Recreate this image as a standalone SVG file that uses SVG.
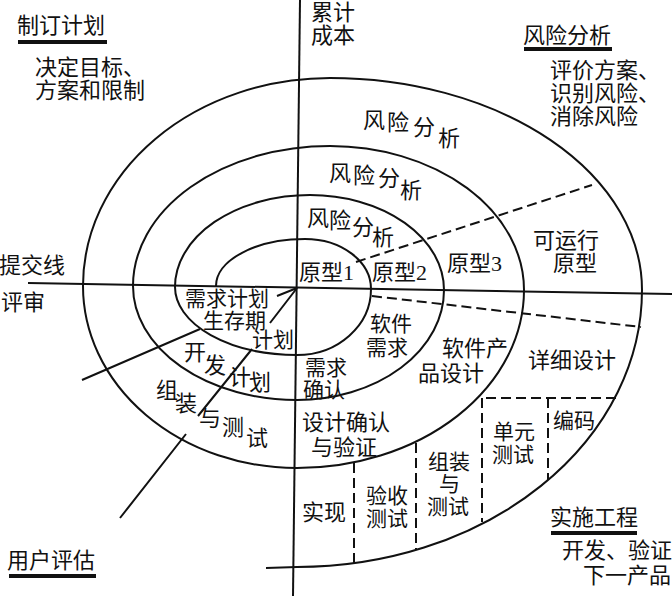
<svg xmlns="http://www.w3.org/2000/svg" width="672" height="596" viewBox="0 0 672 596">
<style>
text{font-family:"Liberation Serif","Noto Sans CJK SC",serif;font-size:22px;fill:#111}
.s{font-size:21px}
.c{fill:none;stroke:#111;stroke-width:2}
.d{fill:none;stroke:#111;stroke-width:2;stroke-dasharray:10 5}
.u{fill:#111}
</style>
<rect width="672" height="596" fill="#fff"/>
<g id="connectors">
<line class="c" x1="300" y1="0" x2="293" y2="596"/>
<line class="c" x1="28" y1="283" x2="672" y2="294"/>
<path id="spiral" class="c" d="M216,286 A89,47 0 0 1 305,239 A66,50 0 0 1 371,289 A74,66 0 0 1 297,355 A122,68 0 0 1 175,287 A135,92 0 0 1 310,195 A134,95 0 0 1 444,290 A147,110 0 0 1 297,400 A164,114 0 0 1 133,286 A197,140 0 0 1 330,146 A194,144 0 0 1 524,290 A227,178 0 0 1 297,468 A214,182 0 0 1 83,286 A247,208 0 0 1 330,78 A312,212 0 0 1 642,290 A345,277 0 0 1 297,567 L266,568"/>
<path class="c" d="M297,288 L277,296 M200,329 L82,380"/>
<path class="c" d="M297,288 L270,323 M252,349 L198,416 M186,434 L120,518"/>
<line class="d" x1="356" y1="262" x2="592" y2="185"/>
<line class="d" x1="372" y1="296" x2="641" y2="327"/>
<line class="d" x1="486" y1="398" x2="619" y2="398"/>
<line class="d" x1="482" y1="398" x2="482" y2="522"/>
<line class="d" x1="548" y1="398" x2="548" y2="480"/>
<line class="d" x1="416" y1="443" x2="416" y2="549"/>
<line class="d" x1="354" y1="463" x2="354" y2="564"/>
</g>
<g id="plan">
<text x="17" y="33">制订计划</text>
<rect class="u" x="18" y="40" width="89" height="4"/>
<text x="35" y="75">决定目标、</text>
<text x="35" y="98">方案和限制</text>
</g>
<g id="cost">
<text x="311" y="20">累计</text>
<text x="311" y="43">成本</text>
</g>
<g id="risk">
<text x="523" y="43">风险分析</text>
<rect class="u" x="524" y="47" width="88" height="4"/>
<text x="550" y="78">评价方案、</text>
<text x="550" y="101">识别风险、</text>
<text x="550" y="124">消除风险</text>
</g>
<g id="review">
<text x="-1" y="273">提交线</text>
<text x="1" y="310">评审</text>
</g>
<g id="user">
<text x="7" y="568">用户评估</text>
<rect class="u" x="9" y="574" width="87" height="4"/>
</g>
<g id="engineering">
<text x="550" y="525">实施工程</text>
<rect class="u" x="551" y="531" width="86" height="4"/>
<text x="562" y="558">开发、验证</text>
<text x="583" y="583">下一产品</text>
</g>
<g id="risk-rings">
<text x="363" y="128">风</text><text x="387" y="130">险</text><text x="413" y="135">分</text><text x="438" y="146">析</text>
<text x="329" y="181">风</text><text x="353" y="183">险</text><text x="378" y="186">分</text><text x="400" y="198">析</text>
<text x="307" y="226">风</text><text x="329" y="228">险</text><text x="352" y="235">分</text><text x="372" y="245">析</text>
</g>
<g id="prototypes">
<text x="299" y="280">原型1</text>
<text x="372" y="280">原型2</text>
<text x="447" y="271">原型3</text>
<text x="533" y="248">可运行</text>
<text x="553" y="271">原型</text>
</g>
<g id="design">
<text class="s" x="370" y="331">软件</text>
<text class="s" x="366" y="355">需求</text>
<text x="442" y="356">软件产</text>
<text x="418" y="381">品设计</text>
<text x="528" y="368">详细设计</text>
<text class="s" x="305" y="375">需求</text>
<text class="s" x="303" y="397">确认</text>
<text x="302" y="430">设计确认</text>
<text x="311" y="455">与验证</text>
</g>
<g id="implementation">
<text class="s" x="428" y="469">组装</text>
<text class="s" x="439" y="491">与</text>
<text class="s" x="427" y="514">测试</text>
<text class="s" x="493" y="439">单元</text>
<text class="s" x="492" y="462">测试</text>
<text class="s" x="553" y="428">编码</text>
<text class="s" x="366" y="503">验收</text>
<text class="s" x="366" y="526">测试</text>
<text x="302" y="520">实现</text>
</g>
<g id="plans">
<text class="s" x="185" y="306">需求计划</text>
<text class="s" x="203" y="328">生存期</text>
<text class="s" x="252" y="347">计划</text>
<text x="184" y="360">开</text><text x="204" y="373">发</text><text x="229" y="385">计</text><text x="249" y="390">划</text>
<text x="156" y="398">组</text><text x="175" y="411">装</text><text x="199" y="426">与</text><text x="222" y="435">测</text><text x="246" y="446">试</text>
</g>
</svg>
